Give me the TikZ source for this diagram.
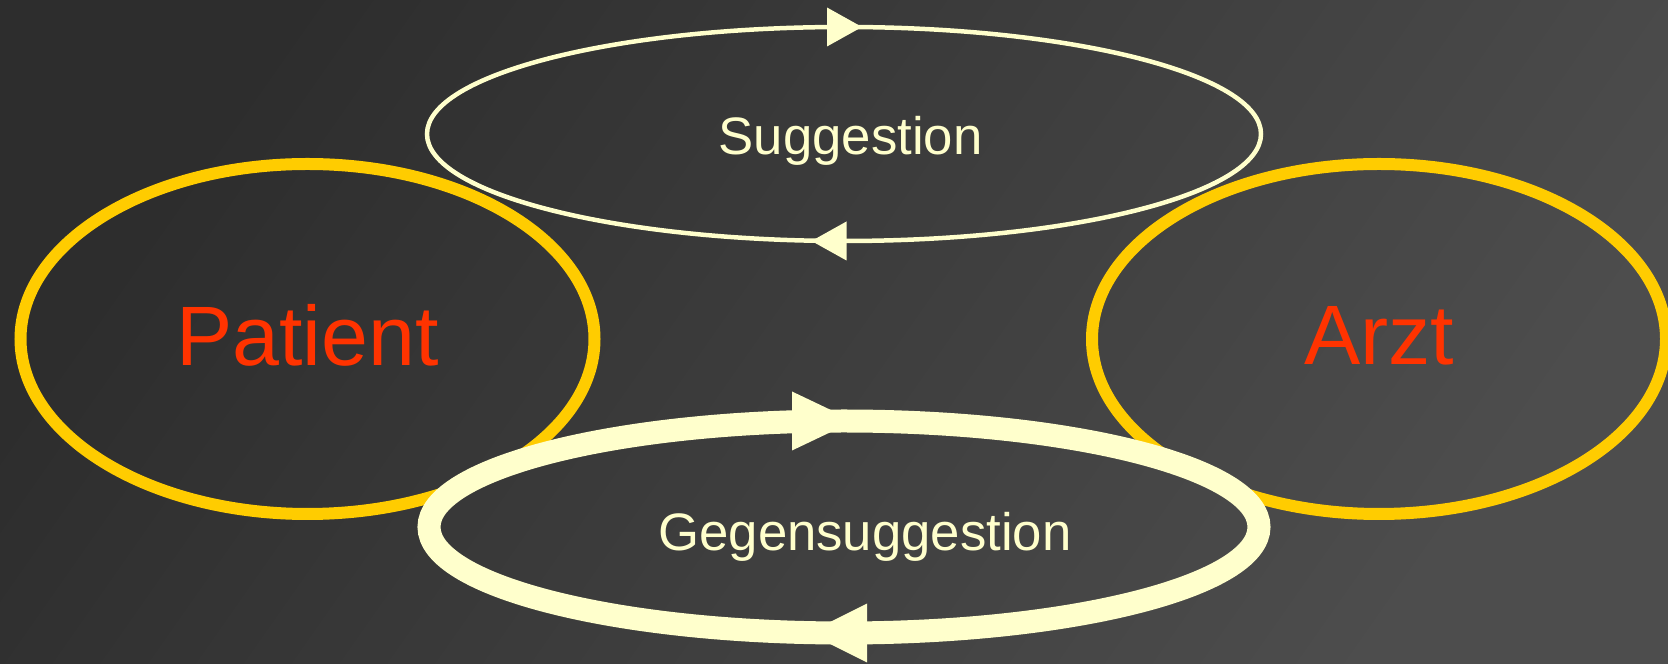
\documentclass[tikz,border=0pt]{standalone}
\usepackage{fontspec}
\setmainfont{Liberation Sans}
\usepackage{xcolor}
\usetikzlibrary{shapes}

\definecolor{bgdark}{HTML}{2D2D2D}
\definecolor{bglight}{HTML}{4D4D4D}
\definecolor{ringgold}{HTML}{FFCC00}
\definecolor{namered}{HTML}{FF3300}
\definecolor{cream}{HTML}{FFFFCC}

\tikzset{
  bgshade/.style={left color=bgdark, right color=bglight, shading angle=55},
  personring/.style={ellipse, draw=ringgold, line width=0.12cm, inner sep=0pt, outer sep=0pt,
    minimum width=5.74cm, minimum height=3.5cm, text depth=0.08cm, text=namered,
    font=\fontsize{24}{28}\selectfont},
  loopring/.style={ellipse, draw=cream, inner sep=0pt, outer sep=0pt},
  looptext/.style={anchor=base, text=cream, font=\fontsize{15}{18}\selectfont}
}

\begin{document}
\begin{tikzpicture}
\useasboundingbox (0,0) rectangle (16.68,6.64);
\shade[bgshade] (0,0) rectangle (16.68,6.64);
% the two persons
\node[personring] (patient) at (3.075,3.25) {Patient};
\node[personring] (arzt) at (13.79,3.25) {Arzt};
% upper loop
\node[loopring, line width=0.045cm, minimum width=8.34cm, minimum height=2.14cm] (sug) at (8.44,5.30) {};
\node[looptext] (sugtxt) at (8.505,5.09) {Suggestion};
% lower loop, covers the rings (same shading, shifted to the node centre)
\node[loopring, line width=0.23cm, minimum width=8.30cm, minimum height=2.12cm,
  path picture={\shade[bgshade] (-8.44,-1.37) rectangle (8.24,5.27);}] (gegen) at (8.44,1.37) {};
\node[looptext] (gegentxt) at (8.65,1.13) {Gegensuggestion};
% arrow heads
\fill[cream] ([xshift=-0.17cm]sug.north) ++(0,0.195) -- ++(0,-0.39) -- ([xshift=0.18cm]sug.north) -- cycle;
\fill[cream] ([xshift=0.025cm]sug.south) ++(0,0.195) -- ++(0,-0.39) -- ([xshift=-0.325cm]sug.south) -- cycle;
\fill[cream] ([xshift=-0.52cm]gegen.north) ++(0,0.295) -- ++(0,-0.59) -- ([xshift=0.10cm]gegen.north) -- cycle;
\fill[cream] ([xshift=0.23cm]gegen.south) ++(0,0.295) -- ++(0,-0.59) -- ([xshift=-0.36cm]gegen.south) -- cycle;
\end{tikzpicture}
\end{document}
